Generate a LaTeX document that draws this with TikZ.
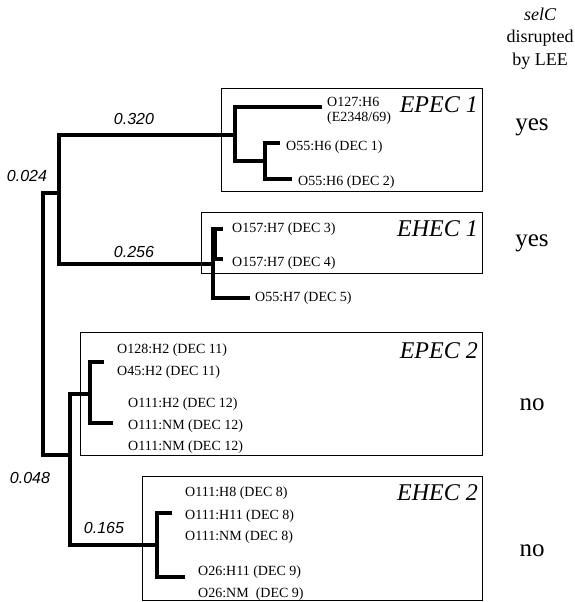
\documentclass[tikz,border=0pt]{standalone}
\usepackage{fontspec}
\setmainfont{Liberation Serif}
\newfontfamily\arialfont{Liberation Sans}
\begin{document}
\begin{tikzpicture}[x=1pt,y=-1pt,
 branch/.style={line width=3.8pt, line join=miter},
 grpbox/.style={draw, line width=0.8pt},
 taxon/.style={anchor=west, inner sep=0pt, font=\fontsize{14}{15.5}\selectfont},
 blen/.style={inner sep=0pt, font=\arialfont\itshape\fontsize{16}{18}\selectfont},
 grp/.style={anchor=east, inner sep=0pt, font=\itshape\fontsize{24}{26}\selectfont},
 answer/.style={inner sep=0pt, font=\fontsize{25}{28}\selectfont},
 head/.style={inner sep=0pt, font=\fontsize{18}{23}\selectfont, align=center}]
\useasboundingbox (0,0) rectangle (574,602);

% group boxes
\draw[grpbox] (221,88) rectangle (482,191);
\draw[grpbox] (201,212) rectangle (482,273);
\draw[grpbox] (80,332) rectangle (482,455);
\draw[grpbox] (142,476) rectangle (482,600);

% internal nodes and tick ends
\coordinate (root) at (43,324);
\coordinate (A) at (59,193);
\coordinate (B) at (70,455);
\coordinate (E1) at (235,135);
\coordinate (E1s) at (265,161);
\coordinate (H1) at (213,264);
\coordinate (H1t) at (214,244);
\coordinate (P2) at (90,394);
\coordinate (H2) at (157,545);
\coordinate (t1) at (322,107);
\coordinate (t2) at (280,143);
\coordinate (t3) at (292,179);
\coordinate (t4) at (223,229);
\coordinate (t5) at (223,259);
\coordinate (t6) at (250,298);
\coordinate (t7) at (104,362);
\coordinate (t8) at (113,423);
\coordinate (t9) at (172,513);
\coordinate (t10) at (185,577);

% branches
\draw[branch] (A) -| (root) |- (B);
\draw[branch] (E1) -| (A) |- (H1);
\draw[branch] (t1) -| (E1) |- (E1s);
\draw[branch] (t2) -| (E1s) |- (t3);
\draw[branch] (t4) -| (H1) |- (t6);
\draw[branch] (t5) -| (H1);
\draw[line width=5.5pt] (t4 -| H1t) -- (t5 -| H1t);
\draw[branch] (P2) -| (B) |- (H2);
\draw[branch] (t7) -| (P2) |- (t8);
\draw[branch] (t9) -| (H2) |- (t10);

% branch lengths
\node[blen] (l320) at (134,119) {0.320};
\node[blen] (l024) at (27,176) {0.024};
\node[blen] (l256) at (134,252) {0.256};
\node[blen] (l048) at (30,478) {0.048};
\node[blen] (l165) at (104,528) {0.165};

% taxa
\node[taxon, align=left] (x1) at (327,111) {O127:H6\\(E2348/69)};
\node[taxon] (x2) at (286,147) {O55:H6 (DEC 1)};
\node[taxon] (x3) at (298,182) {O55:H6 (DEC 2)};
\node[taxon] (x4) at (232,229) {O157:H7 (DEC 3)};
\node[taxon] (x5) at (232,263) {O157:H7 (DEC 4)};
\node[taxon] (x6) at (255,298) {O55:H7 (DEC 5)};
\node[taxon] (x7) at (117,350) {O128:H2 (DEC 11)};
\node[taxon] (x8) at (117,372) {O45:H2 (DEC 11)};
\node[taxon] (x9) at (128,404) {O111:H2 (DEC 12)};
\node[taxon] (x10) at (128,426) {O111:NM (DEC 12)};
\node[taxon] (x11) at (128,447) {O111:NM (DEC 12)};
\node[taxon] (x12) at (185,493) {O111:H8 (DEC 8)};
\node[taxon] (x13) at (185,516) {O111:H11 (DEC 8)};
\node[taxon] (x14) at (185,537) {O111:NM (DEC 8)};
\node[taxon] (x15) at (198,572) {O26:H11 (DEC 9)};
\node[taxon] (x16) at (198,594) {O26:NM\ \ (DEC 9)};

% group labels
\node[grp] (g1) at (478,105) {EPEC 1};
\node[grp] (g2) at (478,229) {EHEC 1};
\node[grp] (g3) at (478,351) {EPEC 2};
\node[grp] (g4) at (478,493) {EHEC 2};

% right column
\node[head] (h1) at (540,14) {\itshape selC};
\node[head] (h2) at (540,38) {disrupted};
\node[head] (h3) at (540,61) {by LEE};
\node[answer] (a1) at (532,127) {yes};
\node[answer] (a2) at (532,243) {yes};
\node[answer] (a3) at (532,405) {no};
\node[answer] (a4) at (532,551) {no};
\end{tikzpicture}
\end{document}
